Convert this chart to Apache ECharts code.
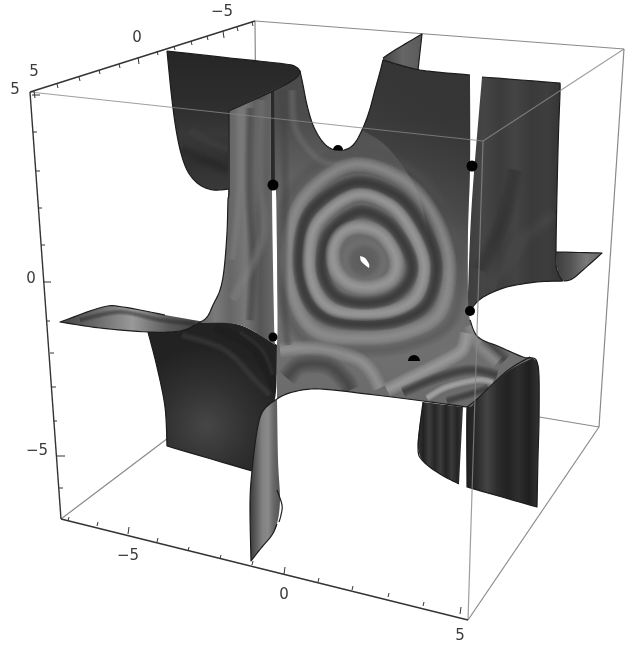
<!DOCTYPE html>
<html><head><meta charset="utf-8">
<style>html,body{margin:0;padding:0;background:#fff}#c{width:641px;height:648px}</style>
<script src="https://cdn.jsdelivr.net/npm/echarts@6/dist/echarts.min.js"></script>
</head><body><div id="c"></div>
<script>
// ---- bounding box ----
const boxBack = [[[255,21],[258,370]],[[61,519],[258,370]],[[258,370],[599,427]],[[255,21],[624,49]],[[624,49],[599,427]],[[468,620],[599,427]]];
const boxFront = [[[30,92],[483,141]],[[483,141],[624,49]],[[483,141],[468,620]]];
const axisLeft = [[30,92],[61,519]];
const axisTop = [[30,92],[255,21]];
const axisBottom = [[61,519],[468,620]];
const ticksLeft = [[32,95,1],[33,132,0],[36,171,0],[38,208,0],[41,245,0],[43,282,1],[46,321,0],[50,353,0],[52,387,0],[53,421,0],[57,456,1],[59,488,0]];
const ticksTop = [[34,91,1],[57,84,0],[79,77,0],[99,70,0],[119,64,0],[138,57,1],[157,51,0],[174,46,0],[191,41,0],[207,36,0],[223,31,1],[237,27,0],[252,22,0]];
const ticksBottom = [[68,521,0],[97,526,0],[128,534,1],[157,542,0],[188,551,0],[220,559,0],[252,565,0],[284,574,1],[318,582,0],[352,590,0],[388,597,0],[423,606,0],[460,614,1]];
const tickLabels = [["5",34,72],["0",137,38],["\u22125",222,12],["5",15,90],["0",31,279],["\u22125",37,451],["\u22125",128,556],["0",284,595],["5",460,636]];

// ---- surface sheets, outlines ----
const wallBackLeft = [[167,51],[230,58],[285,64],[296,67],[300,71],[296,78],[275,90],[229,111],[229,189],[213,190],[200,185],[190,175],[183,160],[177,135],[172,100]];
const finTop = [[383,58],[395,50],[422,34],[418,70],[383,62]];
const wallRight = [[482,77],[560,83],[560,93],[558,150],[556,253],[558,273],[563,281],[537,282],[507,287],[487,295],[477,302],[468,312],[468,293],[472,200]];
const finRight = [[556,252],[602,253],[583,270],[572,279],[564,281],[559,277],[557,267]];
const wallBackLower = [[423,402],[463,407],[459,484],[440,474],[423,461],[418,447],[419,430]];
const wallFrontRight = [[530,357],[537,362],[539,377],[539,420],[538,457],[537,507],[467,487],[467,407],[477,399],[507,371]];
const sheetCentre = [[273,90],[296,78],[300,71],[303,85],[307,105],[313,125],[322,141],[332,149],[344,150],[354,144],[362,130],[369,112],[375,90],[380,72],[383,60],[420,70],[470,75],[470,165],[468,230],[468,295],[470,320],[478,337],[500,347],[523,357],[533,358],[507,372],[477,399],[467,407],[423,401],[375,395],[320,389],[293,392],[277,399],[277,345],[277.5,320],[276,192],[272,185]];
const sheetShadeUpper = [[362,130],[369,112],[375,90],[380,72],[383,60],[420,70],[470,75],[470,165],[468,230],[468,300],[440,300],[420,200],[390,150]];
const stripLeft = [[229,111],[273,90],[272,190],[274,320],[275,345],[240,325],[200,323],[207,317],[213,305],[220,290],[224,270],[227,233],[228,200]];
const stripDark = [[271,92],[274,90],[275,187],[271,187]];
const finLeft = [[60,322],[103,307],[123,307],[165,315],[205,322],[180,331],[148,332],[100,328]];
const wallLowerLeft = [[148,332],[157,367],[165,407],[167,446],[252,471],[257,431],[263,411],[275,399],[277,345],[240,325],[205,322],[180,331]];
const stripLower = [[252,471],[250,504],[251,561],[262,547],[272,535],[277,524],[280,500],[278,460],[277,399],[263,411],[257,431]];

// ---- cut edges of the surface ----
const cutEdges = [
  [[167,51],[172,100],[177,135],[183,160],[190,175],[200,185],[213,190],[229,189]],
  [[167,51],[230,58],[285,64],[296,67],[300,71],[296,78],[275,90],[229,111],[229,189],[228,200],[227,233],[224,270],[220,290],[213,305],[207,317],[197,324],[180,331],[148,332],[100,328],[60,322],[103,307],[123,307],[165,315]],
  [[300,71],[303,85],[307,105],[313,125],[322,141],[332,149],[344,150],[354,144],[362,130],[369,112],[375,90],[380,72],[383,60],[420,70],[470,75]],
  [[383,58],[395,50],[422,34],[418,70]],
  [[482,77],[560,83],[560,93],[558,150],[556,253],[558,273],[563,281],[537,282],[507,287],[487,295],[477,302],[470,311]],
  [[556,252],[602,253],[583,270],[572,279],[564,281]],
  [[470,320],[478,337],[500,347],[523,357],[533,358],[537,362],[539,377],[539,420],[538,457],[537,507],[467,487],[467,407],[423,401],[375,395],[320,389],[293,392],[277,399],[263,411],[257,431],[252,471],[250,504],[251,561],[262,547],[272,535],[277,524]],
  [[148,332],[157,367],[165,407],[167,446],[252,471]],
  [[423,402],[418,447],[423,461],[440,474],[459,484]],
  [[277,490],[282,505],[281,515],[279,522]],
  [[467,407],[477,399],[507,371],[530,357]]
];

// ---- interference rings and bands on the sheet ----
const ringOuterDark = [[345,152],[405,166],[442,205],[460,262],[452,320],[410,345],[358,351],[312,345],[286,312],[277,252],[292,190]];
const ringOuterLight = [[350,165],[400,178],[432,212],[449,262],[440,312],[405,333],[360,338],[318,332],[296,304],[288,254],[302,200]];
const ringMidDark = [[353,183],[395,194],[420,222],[436,262],[428,302],[400,320],[362,324],[326,318],[306,296],[299,256],[310,212]];
const ringMidLight = [[355,195],[390,205],[412,232],[424,265],[417,295],[395,310],[362,314],[332,309],[315,290],[309,258],[318,222]];
const ringInnerDark = [[358,212],[384,220],[402,240],[412,265],[406,285],[388,299],[362,303],[338,297],[325,280],[322,258],[330,232]];
const ringInnerLight = [[360,227],[382,235],[396,258],[392,278],[372,287],[350,284],[336,270],[333,250],[342,233]];
const coreDisc = [[363,238],[380,247],[387,265],[378,280],[360,284],[345,274],[342,256],[350,243]];
const coreHole = [[360,256],[365,258],[369,264],[369,268],[365,265],[361,261]];
const bandLowA = [[280,350],[313,348],[353,357],[370,370],[380,388]];
const bandLowB = [[387,390],[413,377],[443,362],[462,350],[467,333]];
const bandLowC = [[427,398],[447,387],[477,380],[493,382]];
const bandDarkA = [[287,378],[300,365],[327,365],[345,380],[350,390]];
const bandDarkB = [[403,392],[437,378],[470,370],[497,375]];
const bandDarkC = [[447,401],[477,392],[488,388]];
const bandDarkD = [[483,340],[495,350],[505,360]];
const bandLightE = [[470,325],[480,345],[498,362]];
const stripeStripL = [[240,108],[240,190],[232,260]];
const stripeStripD = [[250,108],[249,190],[253,260],[250,320]];
const stripeStripM = [[261,100],[260,180],[262,240],[232,300]];
const stripeCentreA = [[283,90],[285,180],[284,300],[288,345]];
const stripeCentreB = [[292,90],[296,130],[320,160],[350,165]];
const wallArcA = [[182,335],[225,350],[255,380],[270,395]];
const wallArcB = [[215,328],[250,345],[268,372],[275,392]];
const wallArcC = [[240,332],[262,350],[273,375]];
const rightBand = [[490,290],[515,250],[540,225],[556,215]];
const rightBandD = [[480,270],[505,215],[515,170]];
const bandFinLeft = [[80,320],[120,312],[160,320],[195,324]];
const backBand = [[190,130],[205,140],[228,150]];
const backBandB = [[182,150],[205,160],[228,170]];

// ---- critical points ----
const dots = [[273,185,5.5],[472,166,5.5],[470,311,5],[273,337,4.5]];
const halfDots = [[338,150,5],[414,361,6]];

const H=(s)=>({type:'linear',x:0,y:0,x2:1,y2:0,colorStops:s.map((c,i)=>({offset:i/(s.length-1),color:c}))});
const V=(s)=>({type:'linear',x:0,y:0,x2:0,y2:1,colorStops:s.map((c,i)=>({offset:i/(s.length-1),color:c}))});
const layers=[];
const line=(a,c,w,curve)=>layers.push({k:'line',a,c,w,curve});
const patch=(a,f)=>layers.push({k:'patch',a,f});
const band=(host,a,c,w,o)=>layers.push({k:'band',host,a,c,w,o});
const ring=(a,c,w,o)=>layers.push({k:'ring',host:sheetCentre,a,c,w,o});

boxBack.forEach(e=>line(e,'#8a8a8a',1.2));
patch(wallBackLeft,V(['#262626','#2a2a2a','#2e2e2e','#383838','#303030','#3a3a3a']));
band(wallBackLeft,backBand,'#4c4c4c',5,.3); band(wallBackLeft,backBandB,'#242424',5,.3);
patch(finTop,H(['#444','#666','#5a5a5a']));
patch(wallBackLower,H(['#333','#222','#3c3c3c','#262626','#3c3c3c','#232323','#3a3a3a','#242424','#383838']));
patch(wallFrontRight,H(['#1f1f1f','#2c2c2c','#444','#2c2c2c','#222','#2e2e2e','#1f1f1f','#333']));
patch(wallRight,H(['#3e3e3e','#454545','#3c3c3c','#444','#3a3a3a','#3e3e3e','#333']));
band(wallRight,rightBand,'#585858',8,.35); band(wallRight,rightBandD,'#2c2c2c',7,.3);
patch(finRight,H(['#3e3e3e','#555','#7a7a7a','#6a6a6a']));
patch(sheetCentre,V(['#4a4a4a','#4c4c4c','#606060','#6a6a6a','#6c6c6c','#707070','#6a6a6a']));
patch(sheetShadeUpper,{type:'linear',x:.05,y:.75,x2:.8,y2:.25,colorStops:[{offset:0,color:'rgba(50,50,50,0)'},{offset:.5,color:'rgba(50,50,50,.55)'},{offset:1,color:'rgba(50,50,50,.85)'}]});
ring(ringOuterDark,'#505050',6,.5);
ring(ringOuterLight,'#989898',6,.75);
ring(ringMidDark,'#383838',5.5,.85);
ring(ringMidLight,'#a0a0a0',5.5,.8);
ring(ringInnerDark,'#363636',5.5,.85);
ring(ringInnerLight,'#a2a2a2',6,.8);
layers.push({k:'disc',a:coreDisc});
patch(coreHole,'#fff');
[[bandLowA,'#a0a0a0',6,.7],[bandLowB,'#a8a8a8',6,.75],[bandLowC,'#b0b0b0',3,.8],[bandDarkA,'#303030',8,.55],[bandDarkB,'#333',4.5,.7],[bandDarkC,'#333',3.5,.7],[bandDarkD,'#333',6,.6],[bandLightE,'#a0a0a0',6,.6],[stripeCentreA,'#444',4,.45],[stripeCentreB,'#808080',4,.35]].forEach(b=>band(sheetCentre,...b));
patch(finLeft,H(['#444','#6a6a6a','#999','#5a5a5a','#3c3c3c']));
band(finLeft,bandFinLeft,'#2c2c2c',2.5,.5);
patch(wallLowerLeft,{type:'radial',x:0.45,y:0.7,r:0.62,colorStops:[{offset:0,color:'#464646'},{offset:.55,color:'#303030'},{offset:1,color:'#222'}]});
band(wallLowerLeft,wallArcA,'#484848',3.5,.5); band(wallLowerLeft,wallArcB,'#1e1e1e',4,.5); band(wallLowerLeft,wallArcC,'#3e3e3e',2.5,.5);
patch(stripLeft,H(['#606060','#7a7a7a','#666','#777','#555','#6a6a6a']));
band(stripLeft,stripeStripL,'#8a8a8a',4,.4); band(stripLeft,stripeStripD,'#3c3c3c',4,.5); band(stripLeft,stripeStripM,'#909090',5,.4);
patch(stripDark,'#2a2a2a');
patch(stripLower,H(['#3a3a3a','#5c5c5c','#808080','#8a8a8a','#666','#555']));
cutEdges.forEach(e=>line(e,'#1c1c1c',1.2,true));
dots.forEach(d=>layers.push({k:'dot',p:d}));
halfDots.forEach(d=>layers.push({k:'half',p:d}));
boxFront.forEach(e=>line(e,'rgba(135,135,135,.8)',1.2));
[axisLeft,axisTop,axisBottom].forEach(e=>line(e,'#333',1.4));
ticksLeft.forEach(t=>line([[t[0],t[1]],[t[0]+(t[2]?8:4),t[1]]],'#333',1));
ticksTop.forEach(t=>line([[t[0],t[1]],[t[0]+1,t[1]+(t[2]?7:4)]],'#333',1));
ticksBottom.forEach(t=>line([[t[0],t[1]],[t[0]+1,t[1]-(t[2]?7:4)]],'#333',1));
tickLabels.forEach(t=>layers.push({k:'text',t}));

// curve drawing: rounds a traced outline between its sharp corners (same job as a smooth:true line)
function spline(run,closed){
  const n=run.length,out=[];
  const at=i=>closed?run[(i+n)%n]:run[Math.max(0,Math.min(n-1,i))];
  const segs=closed?n:n-1;
  for(let i=0;i<segs;i++){
    const p0=at(i-1),p1=at(i),p2=at(i+1),p3=at(i+2);
    for(let k=0;k<8;k++){const t=k/8,t2=t*t,t3=t2*t;
      out.push([.5*(2*p1[0]+(p2[0]-p0[0])*t+(2*p0[0]-5*p1[0]+4*p2[0]-p3[0])*t2+(3*p1[0]-p0[0]-3*p2[0]+p3[0])*t3),
                .5*(2*p1[1]+(p2[1]-p0[1])*t+(2*p0[1]-5*p1[1]+4*p2[1]-p3[1])*t2+(3*p1[1]-p0[1]-3*p2[1]+p3[1])*t3)]);}
  }
  if(!closed)out.push(run[n-1]);
  return out;
}
function turn(a,b,c){const u=Math.atan2(b[1]-a[1],b[0]-a[0]),v=Math.atan2(c[1]-b[1],c[0]-b[0]);let d=Math.abs(u-v);if(d>Math.PI)d=2*Math.PI-d;return d;}
function rounded(pts,closed){
  const n=pts.length; if(n<3)return pts;
  const corners=[];
  for(let i=0;i<n;i++){ if(!closed&&(i===0||i===n-1))continue;
    if(turn(pts[(i-1+n)%n],pts[i],pts[(i+1)%n])>0.9)corners.push(i);}
  if(closed&&!corners.length)return spline(pts,true);
  const out=[];
  if(closed){for(let c=0;c<corners.length;c++){const a=corners[c],b=corners[(c+1)%corners.length];const run=[];let i=a;do{run.push(pts[i]);i=(i+1)%n;}while(i!==b);run.push(pts[b]);const s=spline(run,false);s.pop();out.push(...s);}return out;}
  const cuts=[0,...corners,n-1];
  for(let c=0;c<cuts.length-1;c++){const s=spline(pts.slice(cuts[c],cuts[c+1]+1),false);if(c<cuts.length-2)s.pop();out.push(...s);}
  return out;
}
const softWidths=[2.5,2.1,1.75,1.4,1.05,.7,.35];
function render(params,api){
  const L=layers[params.dataIndex];
  if(L.k==='text'){const c=api.coord([L.t[1],L.t[2]]);
    return {type:'text',style:{x:c[0],y:c[1],text:L.t[0],fill:'#3a3a3a',font:'15px "DejaVu Sans"',align:'center',verticalAlign:'middle'}};}
  if(L.k==='dot'){const c=api.coord(L.p);return {type:'circle',shape:{cx:c[0],cy:c[1],r:L.p[2]},style:{fill:'#000'}};}
  if(L.k==='half'){const c=api.coord(L.p);return {type:'sector',shape:{cx:c[0],cy:c[1],r:L.p[2],r0:0,startAngle:Math.PI,endAngle:2*Math.PI},style:{fill:'#000'}};}
  const pts=L.a.map(p=>api.coord(p));
  if(L.k==='line')return {type:'polyline',shape:{points:L.curve?rounded(pts,false):pts},style:{stroke:L.c,lineWidth:L.w,fill:'none',lineJoin:'round'}};
  if(L.k==='patch')return {type:'polygon',shape:{points:rounded(pts,true)},style:{fill:L.f}};
  if(L.k==='disc')return {type:'polygon',shape:{points:spline(pts,true)},style:{fill:{type:'radial',x:.5,y:.5,r:.5,colorStops:[{offset:0,color:'#5a5a5a'},{offset:.6,color:'#626262'},{offset:1,color:'rgba(125,125,125,0)'}]}}};
  const t=L.k==='ring'?'polygon':'polyline';
  const curve=spline(pts,L.k==='ring');
  const a=1-Math.pow(1-L.o,1/softWidths.length);
  const hostPts=rounded(L.host.map(p=>api.coord(p)),true);
  return {type:'group',clipPath:{type:'polygon',shape:{points:hostPts}},children:softWidths.map(f=>({type:t,shape:{points:curve},style:{fill:'none',stroke:L.c,lineWidth:L.w*f,opacity:a,lineJoin:'round',lineCap:'butt'}}))};
}
const chart=echarts.init(document.getElementById('c'),null,{renderer:'canvas'});
chart.setOption({animation:false,backgroundColor:'#fff',
  grid:{left:0,right:0,top:0,bottom:0},
  xAxis:{type:'value',min:0,max:641,show:false},
  yAxis:{type:'value',min:0,max:648,inverse:true,show:false},
  series:[{type:'custom',coordinateSystem:'cartesian2d',clip:false,silent:true,renderItem:render,data:layers.map((_,i)=>[0,0,i])}]
});
</script></body></html>
